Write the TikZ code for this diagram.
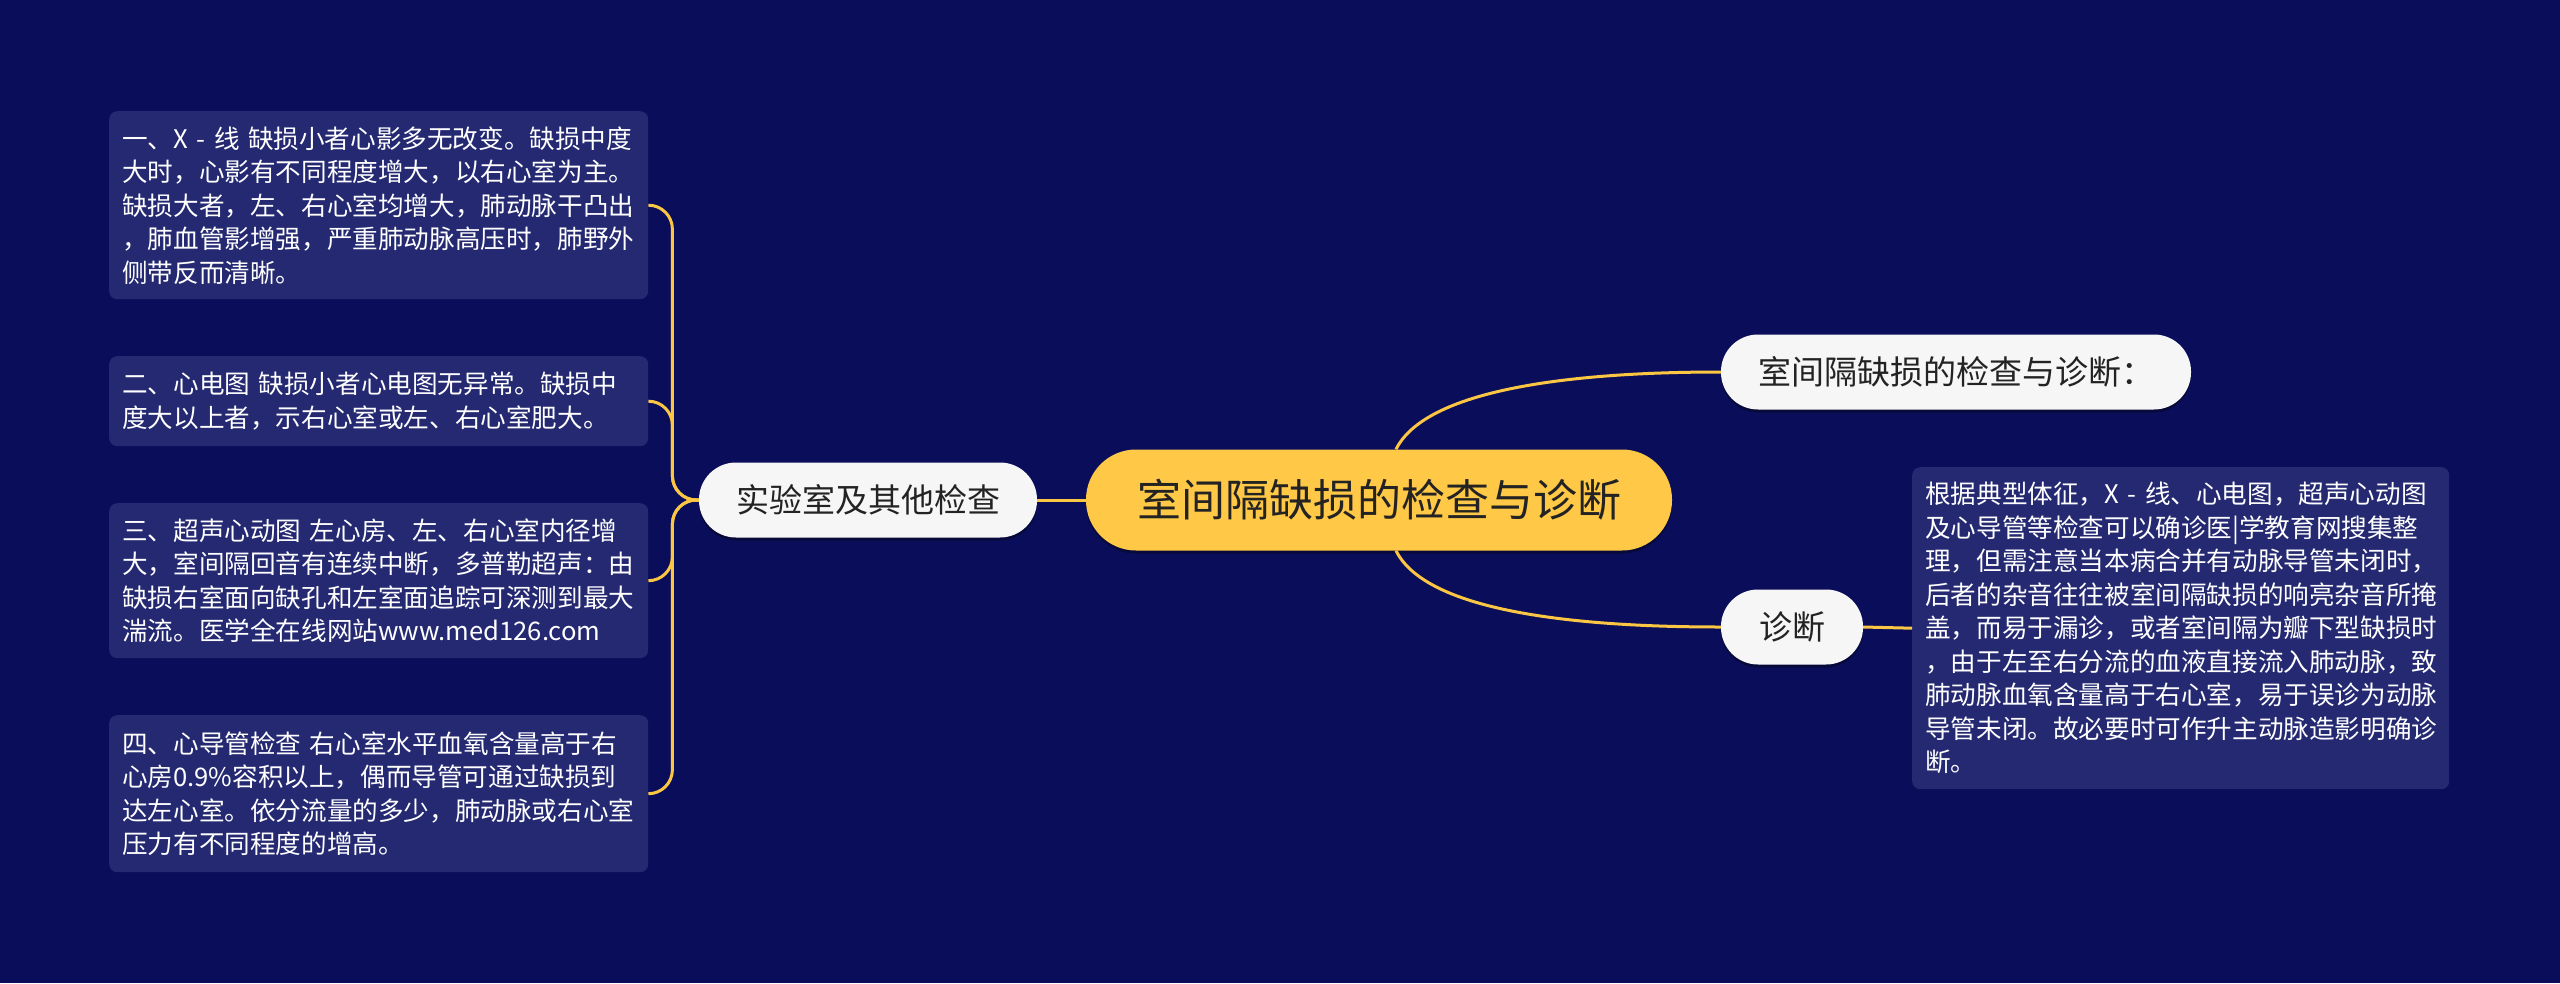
\documentclass[tikz,border=0pt]{standalone}
\usepackage{fontspec}
\setmainfont{Noto Sans CJK SC}
\usetikzlibrary{shadows}
\definecolor{bgc}{RGB}{10,14,90}
\definecolor{boxc}{RGB}{36,41,114}
\definecolor{yel}{RGB}{255,200,70}
\definecolor{linec}{RGB}{250,198,68}
\definecolor{nodew}{RGB}{246,246,246}
\definecolor{txt}{RGB}{35,35,35}
\begin{document}
\begin{tikzpicture}[x=1pt,y=-1pt,
  leaf/.style={fill=boxc, rounded corners=8pt, text=white, font=\fontsize{25.6}{33.5}\selectfont, inner xsep=13pt, inner ysep=0pt, align=left, anchor=north west},
  topic/.style={fill=nodew, text=txt, font=\fontsize{33}{38}\selectfont, rounded corners=37pt, minimum height=75pt, inner xsep=10pt, drop shadow={shadow xshift=0pt, shadow yshift=-3pt, opacity=0.35, fill=black}},
  rootnode/.style={fill=yel, text=txt, font=\fontsize{44}{50}\selectfont, rounded corners=50pt, minimum height=101pt, minimum width=586pt, drop shadow={shadow xshift=0pt, shadow yshift=-3pt, opacity=0.35, fill=black}},
  conn/.style={draw=linec, line width=3pt}]
\fill[bgc] (0,0) rectangle (2560,983);
\useasboundingbox (0,0) rectangle (2560,983);

\node[rootnode] (ctr) at (1379,500) {室间隔缺损的检查与诊断};
\node[topic, minimum width=338pt] (lab) at (868,500) {实验室及其他检查};
\node[topic, minimum width=470pt] (d1) at (1956,372) {室间隔缺损的检查与诊断：};
\node[topic, minimum width=142pt] (d2) at (1792,627) {诊断};

\node[leaf, text width=513pt, minimum height=188pt] (b1) at (109,111)
 {一、X~-~线~缺损小者心影多无改变。缺损中度\\大时，心影有不同程度增大，以右心室为主。\\缺损大者，左、右心室均增大，肺动脉干凸出\\，肺血管影增强，严重肺动脉高压时，肺野外\\侧带反而清晰。};
\node[leaf, text width=513pt, minimum height=90pt] (b2) at (109,356)
 {二、心电图~缺损小者心电图无异常。缺损中\\度大以上者，示右心室或左、右心室肥大。};
\node[leaf, text width=513pt, minimum height=155pt] (b3) at (109,503)
 {三、超声心动图~左心房、左、右心室内径增\\大，室间隔回音有连续中断，多普勒超声：由\\缺损右室面向缺孔和左室面追踪可深测到最大\\湍流。医学全在线网站www.med126.com};
\node[leaf, text width=513pt, minimum height=157pt] (b4) at (109,715)
 {四、心导管检查~右心室水平血氧含量高于右\\心房0.9\%容积以上，偶而导管可通过缺损到\\达左心室。依分流量的多少，肺动脉或右心室\\压力有不同程度的增高。};
\node[leaf, text width=511pt, minimum height=322pt] (rb) at (1912,467)
 {根据典型体征，X~-~线、心电图，超声心动图\\及心导管等检查可以确诊医|学教育网搜集整\\理，但需注意当本病合并有动脉导管未闭时，\\后者的杂音往往被室间隔缺损的响亮杂音所掩\\盖，而易于漏诊，或者室间隔为瓣下型缺损时\\，由于左至右分流的血液直接流入肺动脉，致\\肺动脉血氧含量高于右心室，易于误诊为动脉\\导管未闭。故必要时可作升主动脉造影明确诊\\断。};

\draw[conn] (lab.east) -- (ctr.west);
\foreach \b in {b1,b2,b3,b4}
  \draw[conn, rounded corners=24pt] (lab.west) -| ([xshift=24pt]\b.east) -- (\b.east);
\draw[conn] ([xshift=17pt]ctr.north) .. controls +(30,-60) and +(-150,0) .. (d1.west);
\draw[conn] ([xshift=17pt]ctr.south) .. controls +(30,60) and +(-150,0) .. (d2.west);
\draw[conn] (d2.east) -- (rb.west);
\end{tikzpicture}
\end{document}
